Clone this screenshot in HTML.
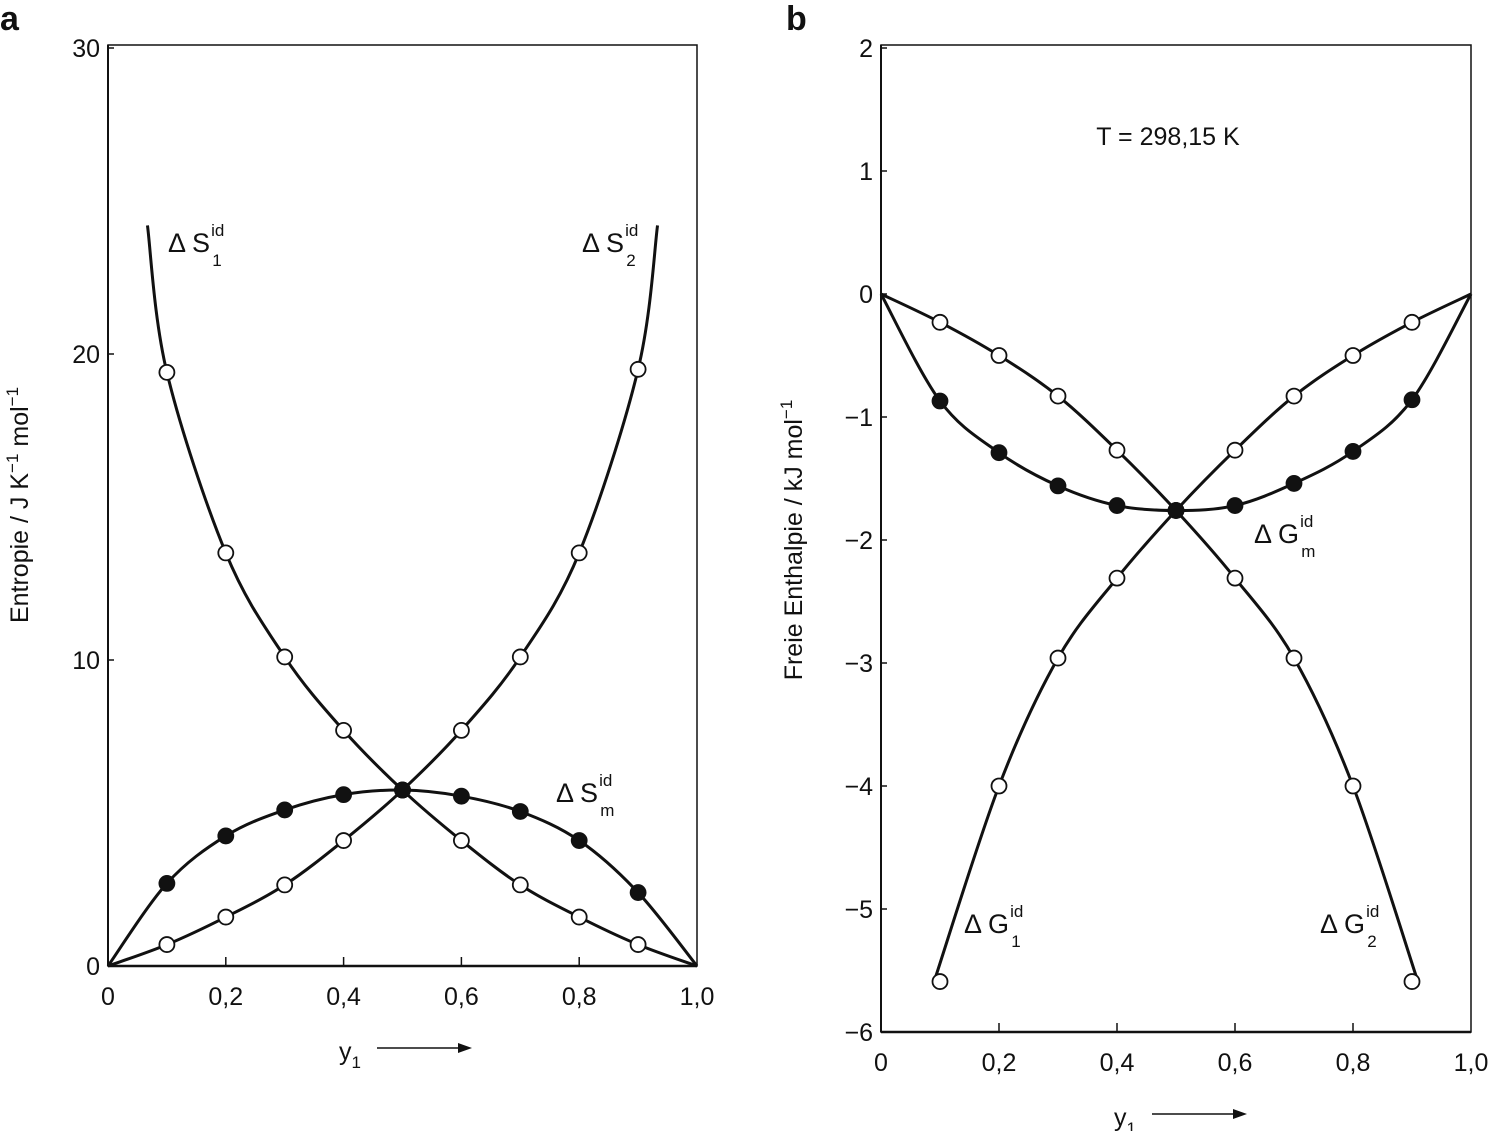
<!DOCTYPE html>
<html><head><meta charset="utf-8"><style>
body{margin:0;background:#fff}
svg{display:block}
text{font-family:"Liberation Sans Narrow","Liberation Sans",sans-serif;fill:#111}
</style></head><body>
<svg id="c" width="1488" height="1131"></svg>
<script>
// ---- data panel a (Entropie) ----
const xs = [0.1,0.2,0.3,0.4,0.5,0.6,0.7,0.8,0.9];
const s1 = [19.4,13.5,10.1,7.7,5.75,4.1,2.65,1.6,0.7];
const s2 = [0.7,1.6,2.65,4.1,5.75,7.7,10.1,13.5,19.5];
const sm = [2.7,4.25,5.1,5.6,5.75,5.55,5.05,4.1,2.4];
const s1CurveX = [0.067,0.1,0.2,0.3,0.4,0.5,0.6,0.7,0.8,0.9,1.0];
const s1CurveY = [24.2,19.4,13.5,10.1,7.7,5.75,4.1,2.65,1.6,0.7,0];
const s2CurveX = [0,0.1,0.2,0.3,0.4,0.5,0.6,0.7,0.8,0.9,0.933];
const s2CurveY = [0,0.7,1.6,2.65,4.1,5.75,7.7,10.1,13.5,19.5,24.2];
const smCurveX = [0,0.1,0.2,0.3,0.4,0.5,0.6,0.7,0.8,0.9,1.0];
const smCurveY = [0,2.7,4.25,5.1,5.6,5.75,5.55,5.05,4.1,2.4,0];
const yTicksA = [0,10,20,30];
// ---- data panel b (Freie Enthalpie) ----
const g1 = [-5.59,-4.0,-2.96,-2.31,-1.76,-1.27,-0.83,-0.5,-0.23];
const g2 = [-0.23,-0.5,-0.83,-1.27,-1.76,-2.31,-2.96,-4.0,-5.59];
const gm = [-0.87,-1.29,-1.56,-1.72,-1.76,-1.72,-1.54,-1.28,-0.86];
const g1CurveX = [0.09,0.2,0.3,0.4,0.5,0.6,0.7,0.8,0.9,1.0];
const g1CurveY = [-5.59,-4.0,-2.96,-2.31,-1.76,-1.27,-0.83,-0.5,-0.23,0];
const g2CurveX = [0,0.1,0.2,0.3,0.4,0.5,0.6,0.7,0.8,0.91];
const g2CurveY = [0,-0.23,-0.5,-0.83,-1.27,-1.76,-2.31,-2.96,-4.0,-5.59];
const gmCurveX = [0,0.1,0.2,0.3,0.4,0.5,0.6,0.7,0.8,0.9,1.0];
const gmCurveY = [0,-0.87,-1.29,-1.56,-1.72,-1.76,-1.72,-1.54,-1.28,-0.86,0];
const yTicksB = [2,1,0,-1,-2,-3,-4,-5,-6];
const xTicks = [0,0.2,0.4,0.6,0.8,1.0];
const xTickLabels = ["0","0,2","0,4","0,6","0,8","1,0"];

const NS="http://www.w3.org/2000/svg", svg=document.getElementById('c');
function el(t,a,p){const e=document.createElementNS(NS,t);for(const k in a)e.setAttribute(k,a[k]);(p||svg).appendChild(e);return e;}
function path(px,py){ // catmull-rom
  let d=`M${px[0]},${py[0]}`;
  for(let i=0;i<px.length-1;i++){
    const i0=Math.max(0,i-1),i3=Math.min(px.length-1,i+2);
    const c1x=px[i]+(px[i+1]-px[i0])/6,c1y=py[i]+(py[i+1]-py[i0])/6;
    const c2x=px[i+1]-(px[i3]-px[i])/6,c2y=py[i+1]-(py[i3]-py[i])/6;
    d+=` C${c1x},${c1y} ${c2x},${c2y} ${px[i+1]},${py[i+1]}`;
  }
  return d;
}
function panel(o){
  const g=el('g',{});
  
  
  const X=v=>o.x0+v*(o.x1-o.x0), Y=v=>o.yb+(v-o.ymin)/(o.ymax-o.ymin)*(o.yt-o.yb);
  const f=el('rect',{x:o.x0,y:o.top,width:o.x1-o.x0,height:o.yb-o.top,fill:'none',stroke:'#111','stroke-width':1.5},g);
  
  el('line',{x1:o.x0,y1:o.yb,x2:o.x1,y2:o.yb,stroke:'#111','stroke-width':2.5},g);
  el('line',{x1:o.x0,y1:o.top,x2:o.x0,y2:o.yb,stroke:'#111','stroke-width':2},g);
  o.yticks.forEach(v=>{
    el('line',{x1:o.x0,y1:Y(v),x2:o.x0+6,y2:Y(v),stroke:'#111','stroke-width':1.5},g);
    const t=el('text',{x:o.x0-8,y:Y(v)+9,'font-size':25,'text-anchor':'end'},g);
    t.textContent=v<0?'\u2212'+(-v):String(v);
    
  });
  xTicks.forEach((v,i)=>{
    if(i>0&&i<5)el('line',{x1:X(v),y1:o.yb,x2:X(v),y2:o.yb-9,stroke:'#111','stroke-width':1.5},g);
    const t=el('text',{x:X(v),y:o.yb+39,'font-size':25,'text-anchor':'middle'},g);
    t.textContent=xTickLabels[i];
    
  });
  o.curves.forEach(c=>{
    const p=el('path',{d:path(c[0].map(X),c[1].map(Y)),fill:'none',stroke:'#111','stroke-width':3},g);
    
  });
  o.series.forEach(s=>{
    xs.forEach((x,i)=>{
      const m=el('circle',{cx:X(x),cy:Y(s[0][i]),r:7.5,fill:s[1]?'#111':'#fff',stroke:'#111','stroke-width':1.8},g);
      
    });
  });
  // x axis title
  const xt=el('text',{x:o.xlab,y:o.yb+94,'font-size':25,'text-anchor':'middle'},g);
  xt.innerHTML='y<tspan font-size="17" dy="8">1</tspan>';
  
  el('line',{x1:o.xlab+27,y1:o.yb+82,x2:o.xlab+110,y2:o.yb+82,stroke:'#111','stroke-width':1.5},g);
  el('path',{d:`M${o.xlab+108},${o.yb+77} L${o.xlab+122},${o.yb+82} L${o.xlab+108},${o.yb+87}Z`,fill:'#111'},g);
  const yt=el('text',{transform:`translate(${o.ylabx},${o.ylaby}) rotate(-90)`,'font-size':25,'text-anchor':'middle'},g);
  yt.innerHTML=o.ylab;
  
  o.labels.forEach(l=>{
    const t=el('text',{x:l[0],y:l[1],'font-size':27},g);
    t.innerHTML=`\u0394 ${l[2]}<tspan font-size="17" dx="1" dy="-16">id</tspan><tspan font-size="17" dx="-12" dy="30">${l[3]}</tspan>`;
    
  });
}
panel({name:'panel-a-entropy',x0:108,x1:697,top:45,yb:966,yt:48,ymin:0,ymax:30,yticks:yTicksA,xlab:350,
  ylabx:28,ylaby:505,ylab:'Entropie / J K<tspan font-size="17" dy="-10">\u22121</tspan><tspan dy="10"> mol</tspan><tspan font-size="17" dy="-10">\u22121</tspan>',
  curves:[[s1CurveX,s1CurveY,'curve-dS1'],[s2CurveX,s2CurveY,'curve-dS2'],[smCurveX,smCurveY,'curve-dSm']],
  series:[[s1,false,'point-dS1'],[s2,false,'point-dS2'],[sm,true,'point-dSm']],
  labels:[[168,252,'S','1','label-dS1'],[582,252,'S','2','label-dS2'],[556,802,'S','m','label-dSm']]});
panel({name:'panel-b-gibbs',x0:881,x1:1471,top:45,yb:1032,yt:48,ymin:-6,ymax:2,yticks:yTicksB,xlab:1125,
  ylabx:802,ylaby:540,ylab:'Freie Enthalpie / kJ  mol<tspan font-size="17" dy="-10">\u22121</tspan>',
  curves:[[g1CurveX,g1CurveY,'curve-dG1'],[g2CurveX,g2CurveY,'curve-dG2'],[gmCurveX,gmCurveY,'curve-dGm']],
  series:[[g1,false,'point-dG1'],[g2,false,'point-dG2'],[gm,true,'point-dGm']],
  labels:[[964,933,'G','1','label-dG1'],[1320,933,'G','2','label-dG2'],[1254,543,'G','m','label-dGm']]});
const ta=el('text',{x:0,y:30,'font-size':34,'font-weight':'bold','font-family':'Liberation Sans'});ta.textContent='a';

const tb=el('text',{x:786,y:30,'font-size':34,'font-weight':'bold','font-family':'Liberation Sans'});tb.textContent='b';

const tt=el('text',{x:1168,y:145,'font-size':25,'text-anchor':'middle'});tt.textContent='T = 298,15 K';

</script>
</body></html>
